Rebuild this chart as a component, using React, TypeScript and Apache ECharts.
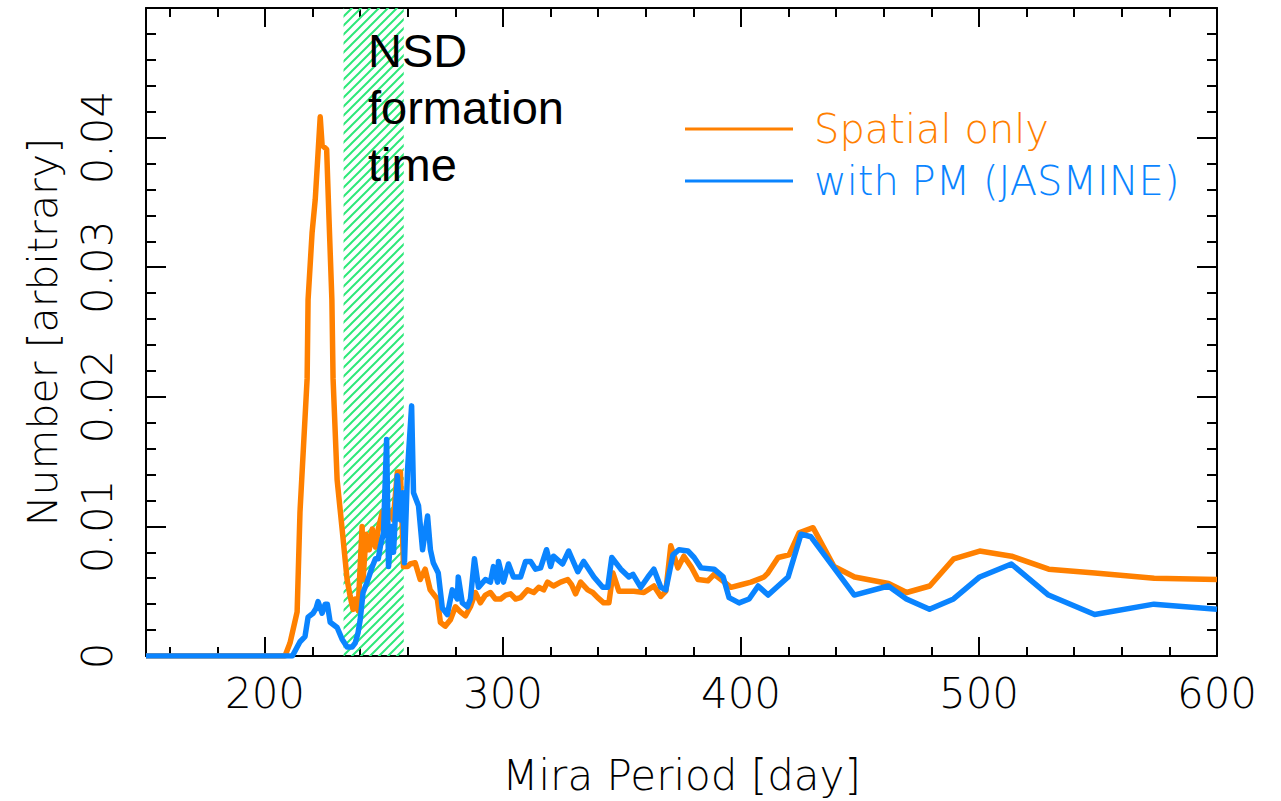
import React, { useEffect, useRef } from "react";
import * as echarts from "echarts";

// Mira period [day], Number [arbitrary]
const spatialOnly: [number, number][] = [
  [150, 0], [208.4, 0], [210.5, 0.001], [213.5, 0.0034], [214.7, 0.0111], [217.7, 0.0214],
  [218.1, 0.0275], [219.8, 0.0327], [221.1, 0.0352], [223.2, 0.0416], [224.0, 0.0394],
  [225.9, 0.0391], [226.9, 0.0337], [228.1, 0.0275], [228.6, 0.0214], [230.3, 0.0136],
  [232.4, 0.0098], [234.5, 0.0059], [235.8, 0.0046], [237.0, 0.0036], [237.9, 0.0044],
  [239.1, 0.0035], [240.8, 0.01], [241.2, 0.0059], [242.5, 0.0094], [243.8, 0.0082],
  [245.1, 0.0098], [246.4, 0.0084], [247.6, 0.0098], [249.3, 0.0111], [250.6, 0.0102],
  [252.7, 0.0111], [253.9, 0.0105], [255.6, 0.0142], [256.9, 0.0142], [258.2, 0.0069],
  [259.9, 0.0069], [261.0, 0.0071], [263.1, 0.0072], [265.2, 0.0059], [267.3, 0.0067],
  [269.4, 0.0051], [272.4, 0.0044], [273.7, 0.0026], [275.7, 0.0023], [277.9, 0.0028],
  [280.0, 0.0038], [282.1, 0.0034], [284.2, 0.0031], [286.3, 0.0038], [288.4, 0.0049],
  [290.5, 0.0041], [292.6, 0.0047], [294.7, 0.0049], [296.8, 0.0044], [299.0, 0.0044],
  [301.1, 0.0047], [303.2, 0.0048], [305.3, 0.0044], [307.4, 0.0045], [310.3, 0.0051],
  [312.9, 0.0049], [315.0, 0.0053], [317.1, 0.0051], [318.7, 0.0057], [321.2, 0.0054],
  [324.2, 0.0057], [327.2, 0.0059], [328.8, 0.0055], [330.5, 0.0048], [332.6, 0.0057],
  [335.6, 0.0051], [337.7, 0.0049], [339.8, 0.0045], [342.3, 0.0041], [344.5, 0.0041],
  [346.2, 0.0064], [348.7, 0.005], [355.0, 0.005], [359.2, 0.0049], [363.4, 0.0054],
  [366.3, 0.0046], [368.4, 0.005], [370.5, 0.0085], [373.5, 0.0068], [376.0, 0.0077],
  [379.0, 0.0069], [381.9, 0.0059], [386.1, 0.0058], [388.7, 0.0063], [391.6, 0.0059],
  [395.8, 0.0053], [400.0, 0.0055], [404.2, 0.0057], [409.7, 0.0061], [411.3, 0.0064],
  [415.6, 0.0076], [420.2, 0.0078], [424.4, 0.0095], [430.3, 0.0099], [439.1, 0.0069],
  [447.7, 0.0061], [462.0, 0.0056], [469.6, 0.0049], [479.3, 0.0054], [489.4, 0.0075],
  [500.3, 0.0081], [513.7, 0.0077], [529.3, 0.0067], [548.7, 0.0064], [573.6, 0.006],
  [600, 0.0059],
];

const withPM: [number, number][] = [
  [150, 0], [211.5, 0], [214.7, 0.0011], [216.8, 0.0015], [218.1, 0.003], [220.2, 0.0033],
  [221.5, 0.0037], [222.3, 0.0042], [224.0, 0.0033], [225.3, 0.004], [226.2, 0.004],
  [227.4, 0.0026], [230.3, 0.0022], [232.4, 0.0013], [234.5, 0.0007], [236.6, 0.0007],
  [237.9, 0.001], [239.1, 0.0018], [240.0, 0.0028], [241.2, 0.0049], [242.9, 0.0057],
  [245.1, 0.0069], [246.4, 0.0075], [247.6, 0.0075], [248.5, 0.0085], [249.8, 0.0095],
  [251.1, 0.0167], [251.9, 0.0069], [253.2, 0.01], [254.0, 0.008], [255.6, 0.0139],
  [256.9, 0.0105], [257.8, 0.0126], [258.6, 0.0072], [259.9, 0.0144], [261.6, 0.0193],
  [262.4, 0.0126], [264.5, 0.0116], [266.2, 0.0082], [268.3, 0.0108], [269.5, 0.0082],
  [270.7, 0.0072], [272.8, 0.0064], [274.5, 0.0037], [276.6, 0.0032], [278.7, 0.0051],
  [280.8, 0.0044], [281.2, 0.0061], [282.9, 0.0041], [285.0, 0.0038], [286.3, 0.0044],
  [288.0, 0.0075], [289.7, 0.0053], [292.6, 0.0059], [294.7, 0.0057], [296.0, 0.0069],
  [297.7, 0.0057], [298.1, 0.0073], [300.2, 0.0057], [302.3, 0.0071], [304.4, 0.0061],
  [307.4, 0.0061], [309.5, 0.0073], [311.6, 0.0073], [313.7, 0.0067], [315.8, 0.0068],
  [318.3, 0.0082], [320.0, 0.0069], [321.2, 0.0077], [325.0, 0.0071], [327.6, 0.0081],
  [331.4, 0.0065], [333.9, 0.0073], [338.2, 0.0061], [341.9, 0.0053], [344.0, 0.0053],
  [345.7, 0.0076], [349.5, 0.0067], [352.9, 0.0061], [354.6, 0.0063], [357.9, 0.0053],
  [360.9, 0.0061], [363.4, 0.0067], [366.3, 0.0053], [368.4, 0.0051], [371.4, 0.0078],
  [373.9, 0.0082], [377.7, 0.0081], [380.3, 0.0076], [383.2, 0.0068], [388.7, 0.0067],
  [392.5, 0.0061], [395.0, 0.0045], [399.2, 0.0041], [403.4, 0.0044], [407.2, 0.0054],
  [411.4, 0.0047], [419.8, 0.0061], [425.2, 0.0094], [429.4, 0.0092], [447.6, 0.0047],
  [461.9, 0.0054], [469.5, 0.0044], [479.2, 0.0036], [489.3, 0.0044], [500.3, 0.0061],
  [513.6, 0.0071], [529.2, 0.0047], [548.6, 0.0032], [573.5, 0.004], [600, 0.0036],
];

const nsdBand: [number, number] = [233, 258.3];
const xMajor = [200, 300, 400, 500, 600];
const xMinor = [160, 180, 220, 240, 260, 280, 320, 340, 360, 380, 420, 440, 460, 480, 520, 540, 560, 580];
const seriesNames = ["Spatial only", "with PM (JASMINE)"];

const ORANGE = "#ff8000";
const BLUE = "#0a84ff";
const FONT = "DejaVu Sans";

function makeHatch(): HTMLCanvasElement {
  const s = 9;
  const c = document.createElement("canvas");
  c.width = s;
  c.height = s;
  const ctx = c.getContext("2d")!;
  ctx.strokeStyle = "#2ee87a";
  ctx.lineWidth = 2;
  ctx.beginPath();
  ctx.moveTo(-1, s + 1);
  ctx.lineTo(s + 1, -1);
  ctx.moveTo(-2, 2);
  ctx.lineTo(2, -2);
  ctx.moveTo(s - 2, s + 2);
  ctx.lineTo(s + 2, s - 2);
  ctx.stroke();
  return c;
}

export default function App() {
  const ref = useRef<HTMLDivElement>(null);
  useEffect(() => {
    if (!ref.current) return;
    const chart = echarts.init(ref.current, null, { renderer: "svg" });
    const black = { color: "#000", width: 2 };
    const xBase = { type: "value", min: 150, max: 600, splitLine: { show: false }, gridIndex: 0 };
    const option: any = {
      animation: false,
      backgroundColor: "#fff",
      grid: { left: 146, top: 8, right: 64, bottom: 145, containLabel: false },
      legend: {
        orient: "vertical",
        left: 680,
        top: 104,
        itemWidth: 108,
        itemHeight: 3,
        itemGap: 12,
        icon: "rect",
        textStyle: { fontSize: 40, fontFamily: FONT, fontWeight: 200, padding: [0, 0, 0, 16] },
        data: [
          { name: seriesNames[0], textStyle: { color: ORANGE } },
          { name: seriesNames[1], textStyle: { color: BLUE } },
        ],
      },
      xAxis: [
        {
          ...xBase,
          position: "bottom",
          axisLine: { show: true, lineStyle: black },
          axisTick: { show: true, inside: true, length: 19, customValues: xMajor, lineStyle: black },
          axisLabel: { customValues: xMajor, fontSize: 42, fontFamily: FONT, fontWeight: 200, color: "#000", margin: 16 },
          name: "Mira Period [day]",
          nameLocation: "middle",
          nameGap: 98,
          nameTextStyle: { fontSize: 42, fontFamily: FONT, fontWeight: 200, color: "#000" },
        },
        {
          ...xBase,
          position: "bottom",
          axisLine: { show: false },
          axisTick: { show: true, inside: true, length: 9, customValues: xMinor, lineStyle: black },
          axisLabel: { show: false },
        },
        {
          ...xBase,
          position: "top",
          axisLine: { show: true, lineStyle: black },
          axisTick: { show: true, inside: true, length: 19, customValues: xMajor, lineStyle: black },
          axisLabel: { show: false },
        },
        {
          ...xBase,
          position: "top",
          axisLine: { show: false },
          axisTick: { show: true, inside: true, length: 9, customValues: xMinor, lineStyle: black },
          axisLabel: { show: false },
        },
      ],
      yAxis: [
        {
          type: "value",
          min: 0,
          max: 0.05,
          interval: 0.01,
          position: "left",
          splitLine: { show: false },
          axisLine: { show: true, lineStyle: black },
          axisTick: { show: true, inside: true, length: 20, lineStyle: black },
          minorTick: { show: true, splitNumber: 5, length: 10, lineStyle: black },
          axisLabel: {
            rotate: 90,
            fontSize: 42,
            fontFamily: FONT,
            fontWeight: 200,
            color: "#000",
            margin: 28,
            formatter: (v: number) => (v === 0 ? "0" : v > 0.045 ? "" : v.toFixed(2)),
          },
          name: "Number [arbitrary]",
          nameLocation: "middle",
          nameRotate: 90,
          nameGap: 83,
          nameTextStyle: { fontSize: 41, fontFamily: FONT, fontWeight: 200, color: "#000" },
        },
        {
          type: "value",
          min: 0,
          max: 0.05,
          interval: 0.01,
          position: "right",
          splitLine: { show: false },
          axisLine: { show: true, lineStyle: black },
          axisTick: { show: true, inside: true, length: 20, lineStyle: black },
          minorTick: { show: true, splitNumber: 5, length: 10, lineStyle: black },
          axisLabel: { show: false },
        },
      ],
      series: [
        {
          name: seriesNames[0],
          type: "line",
          data: spatialOnly,
          showSymbol: false,
          symbol: "none",
          lineStyle: { color: ORANGE, width: 5.5, join: "round" },
          itemStyle: { color: ORANGE },
          z: 3,
          markArea: {
            silent: true,
            itemStyle: { color: { image: makeHatch(), repeat: "repeat" } },
            data: [[{ xAxis: nsdBand[0] }, { xAxis: nsdBand[1] }]],
          },
        },
        {
          name: seriesNames[1],
          type: "line",
          data: withPM,
          showSymbol: false,
          symbol: "none",
          lineStyle: { color: BLUE, width: 5.5, join: "round" },
          itemStyle: { color: BLUE },
          z: 4,
        },
      ],
      graphic: [
        {
          type: "text",
          left: 368,
          top: 22,
          z: 10,
          style: {
            text: "NSD\nformation\ntime",
            font: '47px "Liberation Sans", Arial, sans-serif',
            fill: "#000",
            lineHeight: 57,
          },
        },
      ],
    };
    chart.setOption(option);
    return () => chart.dispose();
  }, []);
  return (
    <div
      ref={ref}
      style={{ position: "absolute", left: 0, top: 0, width: 1281, height: 801, background: "#fff" }}
    />
  );
}
